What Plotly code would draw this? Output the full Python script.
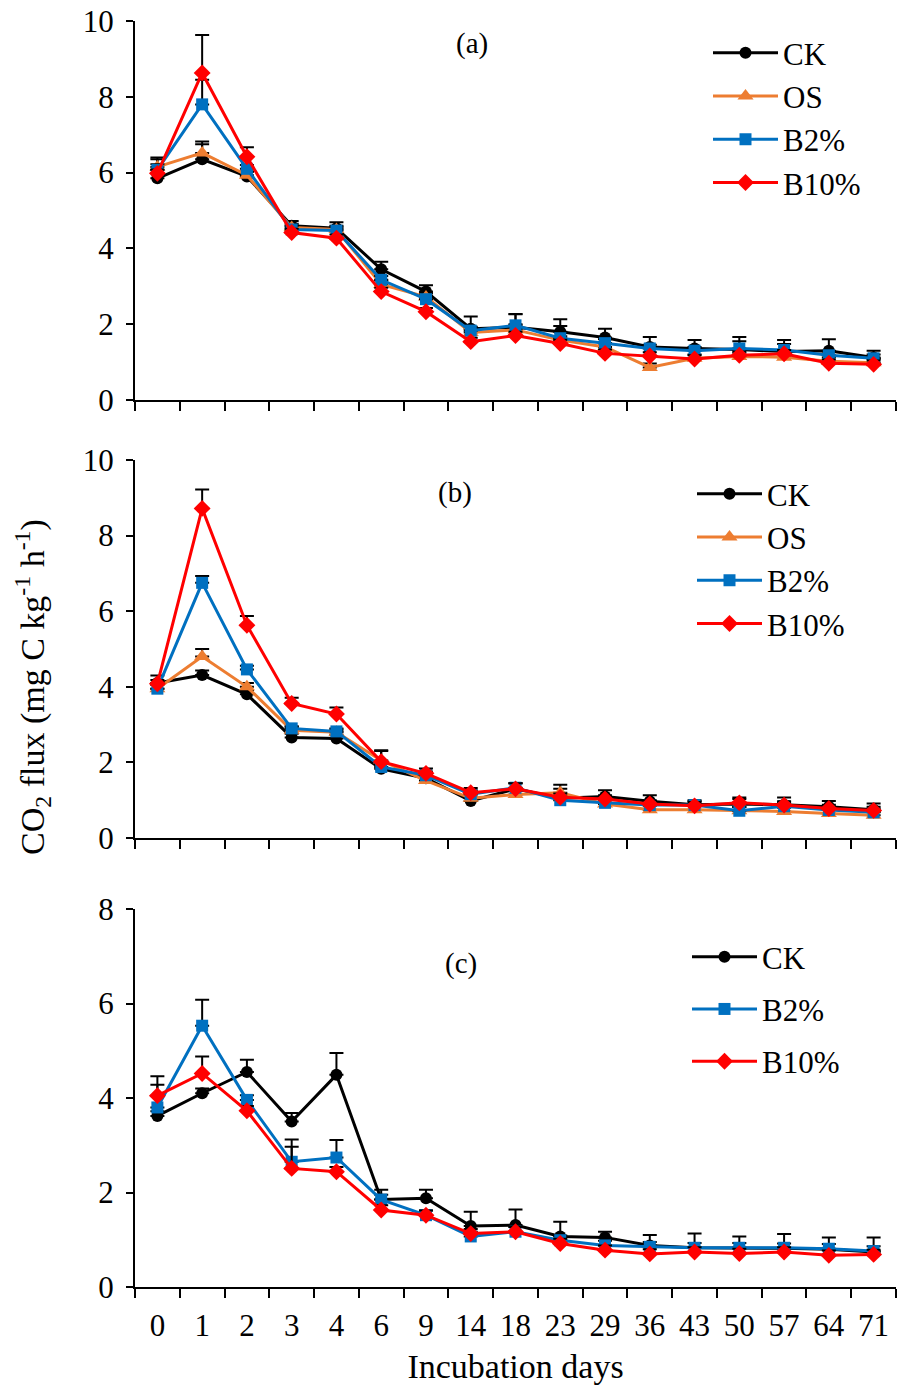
import plotly.graph_objects as go

days = ["0", "1", "2", "3", "4", "6", "9", "14", "18", "23", "29", "36", "43", "50", "57", "64", "71"]

# Panel (a)
a_ck = [5.85, 6.35, 5.90, 4.60, 4.53, 3.45, 2.86, 1.88, 1.92, 1.80, 1.65, 1.40, 1.36, 1.33, 1.28, 1.30, 1.12]
a_os = [6.15, 6.52, 5.93, 4.55, 4.50, 3.05, 2.72, 1.78, 1.85, 1.58, 1.40, 0.86, 1.10, 1.15, 1.13, 1.02, 0.98]
a_b2 = [6.07, 7.80, 6.10, 4.50, 4.47, 3.17, 2.66, 1.83, 1.97, 1.63, 1.50, 1.36, 1.30, 1.36, 1.32, 1.18, 1.10]
a_b10 = [5.98, 8.63, 6.42, 4.42, 4.27, 2.86, 2.33, 1.54, 1.70, 1.49, 1.23, 1.16, 1.08, 1.18, 1.22, 0.97, 0.94]
a_ck_err = [0.55, 0.40, 0.12, 0.12, 0.16, 0.20, 0.17, 0.32, 0.34, 0.33, 0.23, 0.26, 0.22, 0.22, 0.20, 0.30, 0.18]
a_os_err = [0.20, 0.30, 0.10, 0.10, 0.10, 0.10, 0.10, 0.10, 0.15, 0.10, 0.10, 0.10, 0.10, 0.10, 0.10, 0.10, 0.10]
a_b2_err = [0.15, 0.65, 0.10, 0.10, 0.10, 0.10, 0.10, 0.10, 0.30, 0.32, 0.10, 0.10, 0.10, 0.30, 0.26, 0.10, 0.10]
a_b10_err = [0.10, 1.00, 0.25, 0.10, 0.10, 0.10, 0.10, 0.10, 0.10, 0.10, 0.10, 0.10, 0.10, 0.10, 0.10, 0.10, 0.10]

# Panel (b)
b_ck = [4.10, 4.31, 3.80, 2.66, 2.63, 1.83, 1.58, 0.98, 1.30, 1.05, 1.10, 0.97, 0.88, 0.90, 0.88, 0.83, 0.75]
b_os = [3.95, 4.80, 4.00, 2.85, 2.80, 2.05, 1.52, 1.05, 1.15, 1.20, 0.90, 0.75, 0.75, 0.72, 0.70, 0.65, 0.60]
b_b2 = [3.95, 6.75, 4.46, 2.90, 2.82, 1.88, 1.66, 1.16, 1.33, 1.00, 0.93, 0.87, 0.87, 0.72, 0.84, 0.74, 0.68]
b_b10 = [4.08, 8.72, 5.63, 3.56, 3.28, 2.02, 1.71, 1.20, 1.30, 1.08, 1.03, 0.90, 0.85, 0.93, 0.87, 0.78, 0.73]
b_ck_err = [0.20, 0.12, 0.10, 0.10, 0.10, 0.15, 0.13, 0.10, 0.15, 0.36, 0.16, 0.16, 0.12, 0.17, 0.19, 0.15, 0.16]
b_os_err = [0.10, 0.20, 0.10, 0.10, 0.10, 0.25, 0.10, 0.10, 0.10, 0.10, 0.10, 0.10, 0.10, 0.10, 0.10, 0.10, 0.10]
b_b2_err = [0.15, 0.18, 0.10, 0.05, 0.05, 0.10, 0.10, 0.10, 0.12, 0.10, 0.10, 0.10, 0.10, 0.10, 0.10, 0.10, 0.10]
b_b10_err = [0.10, 0.50, 0.24, 0.15, 0.17, 0.30, 0.13, 0.12, 0.15, 0.10, 0.10, 0.10, 0.10, 0.10, 0.10, 0.10, 0.10]

# Panel (c)
c_ck = [3.62, 4.10, 4.55, 3.50, 4.49, 1.85, 1.88, 1.29, 1.31, 1.07, 1.05, 0.88, 0.83, 0.83, 0.82, 0.80, 0.74]
c_b2 = [3.80, 5.53, 3.96, 2.65, 2.74, 1.85, 1.52, 1.07, 1.17, 0.99, 0.88, 0.85, 0.83, 0.83, 0.83, 0.81, 0.76]
c_b10 = [4.05, 4.52, 3.73, 2.51, 2.44, 1.63, 1.52, 1.13, 1.17, 0.92, 0.78, 0.70, 0.74, 0.71, 0.74, 0.67, 0.69]
c_ck_err = [0.10, 0.10, 0.26, 0.18, 0.46, 0.21, 0.18, 0.30, 0.33, 0.31, 0.12, 0.22, 0.10, 0.24, 0.10, 0.25, 0.31]
c_b2_err = [0.48, 0.55, 0.10, 0.47, 0.37, 0.10, 0.10, 0.10, 0.10, 0.10, 0.10, 0.10, 0.30, 0.10, 0.29, 0.10, 0.10]
c_b10_err = [0.41, 0.36, 0.10, 0.46, 0.10, 0.10, 0.10, 0.10, 0.10, 0.10, 0.10, 0.10, 0.10, 0.10, 0.10, 0.10, 0.10]

FONT = "Liberation Serif, Times New Roman, serif"
styles = {
    "CK": dict(color="#000000", symbol="circle", size=12),
    "OS": dict(color="#ED7D31", symbol="triangle-up", size=14),
    "B2%": dict(color="#0070C0", symbol="square", size=12),
    "B10%": dict(color="#FF0000", symbol="diamond", size=13),
}

panels = [
    ("x", "y", "legend", [("CK", a_ck, a_ck_err), ("OS", a_os, a_os_err), ("B2%", a_b2, a_b2_err), ("B10%", a_b10, a_b10_err)]),
    ("x2", "y2", "legend2", [("CK", b_ck, b_ck_err), ("OS", b_os, b_os_err), ("B2%", b_b2, b_b2_err), ("B10%", b_b10, b_b10_err)]),
    ("x3", "y3", "legend3", [("CK", c_ck, c_ck_err), ("B2%", c_b2, c_b2_err), ("B10%", c_b10, c_b10_err)]),
]

fig = go.Figure()
for xa, ya, lg, series in panels:
    for name, vals, errs in series:
        st = styles[name]
        fig.add_trace(go.Scatter(
            x=days, y=vals, name=name, mode="lines+markers",
            xaxis=xa, yaxis=ya, legend=lg, legendgroup=lg + name,
            line=dict(color=st["color"], width=3),
            marker=dict(color=st["color"], symbol=st["symbol"], size=st["size"]),
            error_y=dict(type="data", symmetric=False, array=errs,
                         arrayminus=[0] * len(errs), color="#000000",
                         thickness=2, width=7),
        ))

H = 1392
top_m, bot_m = 21, 105
plot_h = H - top_m - bot_m

def dom(y_top_px, y_bot_px):
    return [(H - bot_m - y_bot_px) / plot_h, (H - bot_m - y_top_px) / plot_h]

def py(p):
    return (H - bot_m - p) / plot_h

L, R = 135, 896
def px(p):
    return (p - L) / (R - L)

xcommon = dict(type="category", range=[-0.5, 16.5], tickson="boundaries",
               ticks="outside", ticklen=9, tickwidth=2, tickcolor="black",
               showline=True, linewidth=2, linecolor="black", showgrid=False,
               zeroline=False, ticklabelstandoff=10,
               tickfont=dict(family=FONT, size=31, color="black"))
ycommon = dict(ticks="outside", ticklen=7, tickwidth=2, tickcolor="black",
               showline=True, linewidth=2, linecolor="black", showgrid=False,
               zeroline=False, dtick=2, ticklabelstandoff=6,
               tickfont=dict(family=FONT, size=31, color="black"))

legcommon = dict(xanchor="left", yanchor="top", bgcolor="rgba(0,0,0,0)",
                 font=dict(family=FONT, size=31, color="black"), itemwidth=65,
                 tracegroupgap=0)

fig.update_layout(
    width=899, height=H,
    margin=dict(l=L, r=899 - R, t=top_m, b=bot_m),
    paper_bgcolor="white", plot_bgcolor="white",
    font=dict(family=FONT, color="black"),
    xaxis=dict(**xcommon, anchor="y", showticklabels=False),
    xaxis2=dict(**xcommon, anchor="y2", showticklabels=False),
    xaxis3=dict(**xcommon, anchor="y3",
                title=dict(text="Incubation days", font=dict(family=FONT, size=34), standoff=12)),
    yaxis=dict(**ycommon, domain=dom(21, 400), range=[0, 10], anchor="x"),
    yaxis2=dict(**ycommon, domain=dom(460, 838), range=[0, 10], anchor="x2"),
    yaxis3=dict(**ycommon, domain=dom(909, 1287), range=[0, 8], anchor="x3"),
    legend=dict(**legcommon, x=px(708), y=py(26)),
    legend2=dict(**legcommon, x=px(692), y=py(467)),
    legend3=dict(**{**legcommon, "tracegroupgap": 9}, x=px(687), y=py(930)),
    showlegend=True,
    annotations=[
        dict(text="(a)", x=px(472), y=py(43), xref="paper", yref="paper", showarrow=False,
             xanchor="center", yanchor="middle",
             font=dict(family=FONT, size=29, color="black")),
        dict(text="(b)", x=px(455), y=py(492), xref="paper", yref="paper", showarrow=False,
             xanchor="center", yanchor="middle",
             font=dict(family=FONT, size=29, color="black")),
        dict(text="(c)", x=px(461), y=py(963), xref="paper", yref="paper", showarrow=False,
             xanchor="center", yanchor="middle",
             font=dict(family=FONT, size=29, color="black")),
        dict(text="CO<sub>2</sub> flux (mg C kg<sup>-1</sup> h<sup>-1</sup>)", textangle=-90,
             x=px(32), y=py(687), xref="paper", yref="paper", showarrow=False,
             xanchor="center", yanchor="middle",
             font=dict(family=FONT, size=34, color="black")),
    ],
)

fig.write_html("out.html")
